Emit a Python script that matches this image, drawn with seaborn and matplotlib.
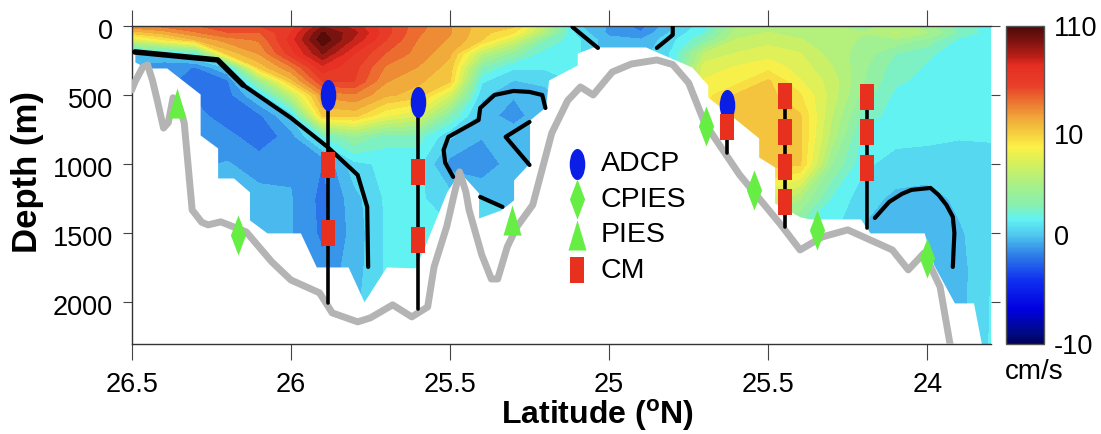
import numpy as np
import matplotlib
matplotlib.use("Agg")
import matplotlib.pyplot as plt
import seaborn as sns
from matplotlib.path import Path
from matplotlib.transforms import Affine2D, ScaledTranslation
from matplotlib.colors import LinearSegmentedColormap, Normalize
from matplotlib.cm import ScalarMappable

# grid of the section
lat_grid = [26.5, 26.4, 26.3, 26.2, 26.1, 26.0, 25.9, 25.8, 25.7, 25.6, 25.5, 25.4, 25.3, 25.2,
            25.1, 25.0, 24.9, 24.8, 24.7, 24.6, 24.5, 24.4, 24.3, 24.2, 24.1, 24.0, 23.9, 23.8]
depth_grid = [0, 50, 100, 200, 300, 400, 500, 650, 800, 1000, 1250, 1500, 1750, 2000, 2300]

# speed in cm/s, one list per latitude, top to bottom
speed_by_lat = [
    [35, 12, 7, -0.3, -1, -1, -1, -1, -1, -1, -1, -1, -1, -1, -1],
    [40, 22, 9, 0.3, -1.6, -1.5, -1.2, -1, -1, -1, -1, -1, -1, -1, -1],
    [45, 35, 18, 1.5, -1.8, -2.2, -2, -1.3, -1, -1, -1, -1, -1, -1, -1],
    [52, 45, 32, 12, 0.2, -2, -2.2, -2.5, -1.4, -0.8, -0.6, -0.6, -0.6, -0.6, -0.6],
    [55, 45, 38, 28, 12, 4, 0.2, -2, -2.5, -1.2, -0.6, -0.5, -0.5, -0.5, -0.5],
    [58, 64, 68, 60, 35, 14, 6, 0.1, -1.3, -1, -0.8, -0.8, -1, -1, -1],
    [90, 102, 108, 92, 70, 55, 30, 10, 2, -1.8, -2.1, -2, -1.5, -0.6, -0.6],
    [78, 85, 80, 64, 58, 55, 35, 12, 4, 0.7, -0.3, -0.5, -0.4, -0.2, -0.2],
    [58, 58, 55, 45, 35, 28, 20, 8, 2.5, 1.3, 1.2, 1.2, 1.2, 1.2, 1.2],
    [40, 38, 36, 33, 27, 20, 14, 7, 2.5, 1.3, 1.2, 1.3, 1.3, 1.3, 1.3],
    [28, 28, 26, 20, 14, 10, 7, 3, 0.2, -1.2, 0.5, 1.2, 1.2, 1.2, 1.2],
    [13, 12, 10, 6, 3, 1.2, 0.3, -0.5, -0.8, -1.5, 0, 1.1, 1.1, 1.1, 1.1],
    [11, 9, 7, 3.5, 1.2, 0, -0.8, -1.2, -0.4, -0.4, -0.3, 0.8, 0.8, 0.8, 0.8],
    [6, 5, 3, 1.5, 1.2, 0.3, -0.3, -0.3, -0.3, -0.3, -0.3, -0.3, -0.3, -0.3, -0.3],
    [0.2, 0.7, 1.2, 1.2, 1.2, 1.2, 1.2, 1.2, 1.2, 1.2, 1.2, 1.2, 1.2, 1.2, 1.2],
    [-1, -1.1, -0.6, -0.5, -0.5, -0.5, -0.5, -0.5, -0.5, -0.5, -0.5, -0.5, -0.5, -0.5, -0.5],
    [-2.2, -1.7, -0.8, -0.4, -0.4, -0.4, -0.4, -0.4, -0.4, -0.4, -0.4, -0.4, -0.4, -0.4, -0.4],
    [0, 0.3, 0.8, 1.2, 1.2, 1.2, 1.2, 1.2, 1.2, 1.2, 1.2, 1.2, 1.2, 1.2, 1.2],
    [1.5, 2, 3, 6, 7.5, 8, 8.5, 9, 9, 9, 9, 9, 9, 9, 9],
    [5, 5.5, 6, 7, 8, 8.5, 10, 11, 11, 11, 11, 11, 11, 11, 11],
    [5, 6, 6.5, 7.5, 8.5, 10.5, 12, 13, 13, 12.5, 7, 3, 3, 3, 3],
    [5.5, 5.5, 6, 7, 7.5, 8, 9, 10, 11, 10.5, 5, 2, 2, 2, 2],
    [5, 5.5, 5.5, 5.5, 6, 6.5, 6.5, 6, 5.5, 4, 1.8, 1.2, 1.2, 1.2, 1.2],
    [4.5, 5, 4.8, 4.5, 4.2, 4, 3.5, 2.5, 1.6, 1.2, 0.5, -0.1, -0.1, -0.1, -0.1],
    [5.5, 6, 4.8, 3, 2.5, 2.2, 1.8, 1.6, 1.3, 0.7, -0.2, -0.6, -0.6, -0.6, -0.6],
    [4.5, 5, 3.8, 2.2, 1.9, 1.7, 1.6, 1.3, 1.2, 0.7, -0.4, -0.7, -0.7, -0.6, -0.6],
    [2.5, 2.8, 1.8, 1.5, 1.4, 1.4, 1.3, 1.2, 1.1, 0.6, 0.3, -0.1, -0.3, -0.3, 0.2],
    [1.6, 1.5, 1.4, 1.3, 1.3, 1.3, 1.3, 1.2, 1.1, 0.8, 0.6, 0.8, 1, 1.1, 1.1],
]

# lower edge of the gridded section
edge_lat = [26.5, 26.49, 26.49, 26.45, 26.39, 26.285, 26.285, 26.23, 26.23, 26.18, 26.13, 26.13,
            26.075, 25.97, 25.92, 25.82, 25.77, 25.70, 25.61, 25.58, 25.51, 25.47, 25.41, 25.41,
            25.34, 25.30, 25.30, 25.25, 25.25, 25.20, 25.19, 25.10, 25.10, 25.05, 24.885, 24.85,
            24.74, 24.69, 24.69, 24.58, 24.53, 24.53, 24.48, 24.48, 24.40, 24.37, 24.21, 24.18,
            24.01, 23.98, 23.915, 23.855, 23.83, 23.80]
edge_depth = [175, 175, 262, 305, 305, 493, 789, 883, 1100, 1100, 1200, 1403,
              1497, 1497, 1743, 1743, 1995, 1743, 1750, 1598, 1200, 1056, 1208, 1389,
              1331, 1258, 1114, 991, 681, 587, 392, 283, 197, 153, 153, 189,
              298, 428, 514, 717, 811, 948, 1020, 1280, 1381, 1396, 1396, 1497,
              1497, 1728, 2003, 2003, 2300, 2300]

# sea floor
floor_lat = [26.50, 26.49, 26.465, 26.45, 26.435, 26.42, 26.40, 26.385, 26.37, 26.35, 26.335, 26.31,
             26.28, 26.26, 26.22, 26.14, 26.06, 26.00, 25.91, 25.87, 25.79, 25.75, 25.68, 25.62,
             25.57, 25.55, 25.51, 25.49, 25.47, 25.45, 25.44, 25.40, 25.37, 25.35, 25.32, 25.29,
             25.24, 25.18, 25.13, 25.09, 25.05, 24.99, 24.93, 24.85, 24.80, 24.75, 24.70, 24.59,
             24.46, 24.40, 24.33, 24.25, 24.11, 24.06, 24.01, 23.96, 23.93, 23.92]
floor_depth = [464, 406, 298, 283, 392, 536, 739, 700, 520, 590, 702, 1331,
               1420, 1439, 1417, 1490, 1706, 1837, 1930, 2075, 2140, 2111, 2017, 2104,
               2032, 1743, 1450, 1250, 1056, 1200, 1331, 1656, 1830, 1830, 1598, 1454,
               1295, 775, 540, 442, 500, 334, 276, 247, 280, 413, 702, 1077,
               1439, 1620, 1526, 1475, 1620, 1764, 1642, 1887, 2284, 2380]

# zero speed contour pieces
zero_main_lat = [26.49, 26.23, 26.15]
zero_main_depth = [189, 247, 428]
zero_lines = [
    ([26.15, 26.0, 25.885, 25.79, 25.76, 25.757], [428, 665, 875, 1078, 1309, 1743]),
    ([25.20, 25.21, 25.25, 25.30, 25.36, 25.405, 25.41, 25.505, 25.52, 25.515, 25.49],
     [594, 500, 478, 471, 500, 594, 681, 803, 897, 990, 1092]),
    ([25.405, 25.335], [1237, 1309]),
    ([25.25, 25.325, 25.25], [695, 803, 1006]),
    ([25.115, 25.035], [9, 160]),
    ([24.80, 24.80, 24.85], [9, 66, 160]),
    ([24.165, 24.12, 24.08, 24.05, 23.99, 23.965, 23.94, 23.92, 23.915, 23.92],
     [1389, 1273, 1215, 1186, 1172, 1222, 1295, 1381, 1497, 1743]),
]

# moorings: latitude, top, bottom
mooring_lat = [25.883, 25.60, 24.63, 24.446, 24.19]
mooring_top = [500, 550, 573, 507, 514]
mooring_bottom = [2003, 2046, 920, 1453, 1461]

adcp_lat = [25.883, 25.60, 24.63]
adcp_depth = [500, 550, 573]
cpies_lat = [26.166, 24.694, 24.546, 24.348, 24.0]
cpies_depth = [1511, 724, 1186, 1475, 1677]
pies_lat = [26.358, 25.304]
pies_depth = [558, 1403]
cm_lat = [25.883, 25.883, 25.60, 25.60, 24.63, 24.446, 24.446, 24.446, 24.446, 24.19, 24.19, 24.19]
cm_depth = [1006, 1499, 1056, 1548, 731, 507, 767, 1020, 1273, 514, 767, 1027]

x_ticks = [26.5, 26.0, 25.5, 25.0, 24.5, 24.0]
x_tick_labels = ["26.5", "26", "25.5", "25", "25.5", "24"]
y_ticks = [0, 500, 1000, 1500, 2000]
bar_values = [-10, 0, 10, 110]
bar_labels = ["-10", "0", "10", "110"]

sns.set_theme(style="ticks")
plt.rcParams["font.family"] = ["Liberation Sans", "DejaVu Sans"]
plt.rcParams["text.color"] = "black"
plt.rcParams["mathtext.fontset"] = "custom"
plt.rcParams["mathtext.bf"] = "Liberation Sans:bold"
plt.rcParams["mathtext.rm"] = "Liberation Sans:bold"

bar_pos = [0, 0.342, 0.66, 1]


def to_bar(v):
    # the colour bar is stretched piecewise between its labels
    return np.interp(v, bar_values, bar_pos)


cmap = LinearSegmentedColormap.from_list("section", [
    (0, "#00005a"), (0.03, "#000a80"), (0.107, "#0000e0"), (0.2, "#1030f0"), (0.28, "#2f80e8"),
    (0.342, "#50c8f0"), (0.392, "#62f2f2"), (0.436, "#88f0b0"), (0.5, "#a8f088"), (0.56, "#d0f060"),
    (0.618, "#fcf048"), (0.66, "#f5d040"), (0.71, "#f0a83a"), (0.765, "#ec7030"), (0.81, "#e8402a"),
    (0.875, "#e62e22"), (0.906, "#b81e16"), (0.95, "#801410"), (1, "#4a0a08")])

W, H = 1101, 434
fig = plt.figure(figsize=(W / 100, H / 100), dpi=100)
ax = fig.add_axes([131.7 / W, (H - 344) / H, 859.3 / W, 318.2 / H])
cax = fig.add_axes([1006 / W, (H - 344) / H, 38 / W, 318.5 / H])

speed = np.array(speed_by_lat, dtype=float).T
ax.contourf(lat_grid, depth_grid, to_bar(speed), levels=np.linspace(0, 1, 33), cmap=cmap, vmin=0, vmax=1, zorder=1)
ax.fill_between(edge_lat, edge_depth, 2300, color="white", linewidth=0, zorder=2)

sns.lineplot(x=floor_lat, y=floor_depth, sort=False, estimator=None, color="#b4b4b4", linewidth=5,
             solid_joinstyle="round", ax=ax, zorder=3)
sns.lineplot(x=zero_main_lat, y=zero_main_depth, sort=False, estimator=None, color="black", linewidth=4,
             solid_joinstyle="round", ax=ax, zorder=4)
for lats, depths in zero_lines:
    sns.lineplot(x=lats, y=depths, sort=False, estimator=None, color="black", linewidth=3,
                 solid_joinstyle="round", ax=ax, zorder=4)
for lat, top, bottom in zip(mooring_lat, mooring_top, mooring_bottom):
    sns.lineplot(x=[lat, lat], y=[top, bottom], sort=False, estimator=None, color="black", linewidth=2.6, ax=ax, zorder=5)

ellipse = Path.unit_circle().transformed(Affine2D().scale(0.5, 1))
diamond = Path([(0, -1), (0.38, 0), (0, 1), (-0.38, 0), (0, -1)], closed=True)
triangle = Path([(-0.6, -1), (0.6, -1), (0, 1), (-0.6, -1)], closed=True)
rect = Path([(-0.52, -1), (0.52, -1), (0.52, 1), (-0.52, 1), (-0.52, -1)], closed=True)

instruments = [
    ("ADCP", adcp_lat, adcp_depth, ellipse, "#0a1ee6", 500),
    ("CPIES", cpies_lat, cpies_depth, diamond, "#66ee44", 830),
    ("PIES", pies_lat, pies_depth, triangle, "#66ee44", 470),
    ("CM", cm_lat, cm_depth, rect, "#e8301f", 330),
]
for name, lats, depths, marker, colour, size in instruments:
    sns.scatterplot(x=lats, y=depths, marker=marker, color=colour, s=size, linewidth=0,
                    label=name, ax=ax, zorder=6, clip_on=False)

ax.legend(loc="upper left", bbox_to_anchor=(0.495, 0.605), frameon=False, fontsize=20.5, labelspacing=0.33,
          handletextpad=0.14, borderpad=0, borderaxespad=0, handlelength=1.4)

ax.set_xlim(26.5, 23.8)
ax.set_ylim(2300, 0)
ax.set_xticks(x_ticks)
ax.set_xticklabels(x_tick_labels)
ax.set_yticks(y_ticks)
ax.tick_params(axis="x", top=True, bottom=True, direction="out", length=11.5, width=0.8, color="#444444",
               labelsize=19.5, pad=9, labelcolor="black")
ax.tick_params(axis="y", left=True, right=True, direction="out", length=6.5, width=0.8, color="#444444",
               labelsize=19.5, pad=7, labelcolor="black")
for label in ax.get_yticklabels():
    label.set_transform(label.get_transform() + ScaledTranslation(0, -3 / 100, fig.dpi_scale_trans))
for side in ax.spines:
    ax.spines[side].set_visible(True)
    ax.spines[side].set_color("#333333")
    ax.spines[side].set_linewidth(1.0)
ax.spines["right"].set_visible(False)
ax.set_xlabel("")
ax.set_ylabel("")
ax.set_zorder(3)

fig.text(598 / W, 1 - 415 / H, r"Latitude ($^{\mathbf{o}}$N)", ha="center", va="center", fontsize=23, fontweight="bold")
fig.text(27 / W, 1 - 172 / H, "Depth (m)", ha="center", va="center", rotation=90, fontsize=25, fontweight="bold")
fig.text(1034 / W, 1 - 372 / H, "cm/s", ha="center", va="center", fontsize=20)

cb = fig.colorbar(ScalarMappable(norm=Normalize(0, 1), cmap=cmap), cax=cax)
cb.set_ticks(bar_pos)
cb.set_ticklabels(bar_labels)
cb.ax.tick_params(length=2, width=0.8, direction="in", color="#444444", labelsize=19.5, pad=7, labelcolor="black")
cb.outline.set_edgecolor("#555555")
cb.outline.set_linewidth(1.0)

fig.savefig("out.png", dpi=100)
